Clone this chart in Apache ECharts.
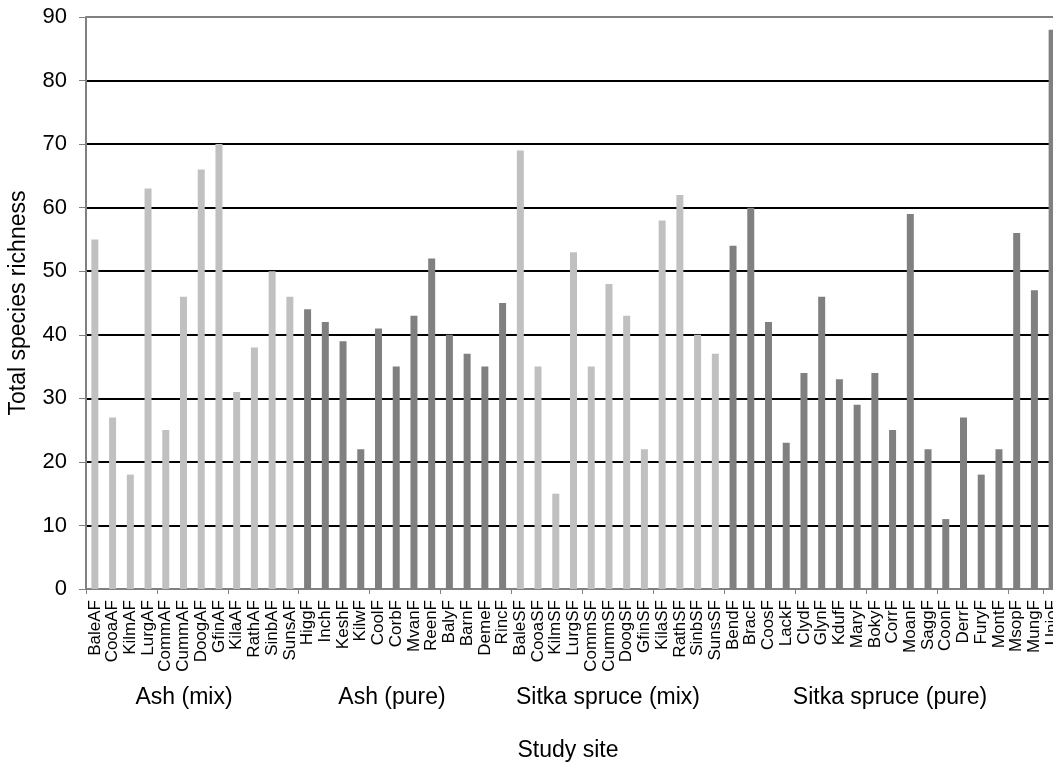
<!DOCTYPE html>
<html>
<head>
<meta charset="utf-8">
<script src="https://cdn.jsdelivr.net/npm/echarts@6/dist/echarts.min.js"></script>
<style>
html,body{margin:0;padding:0;background:#fff;}
#chart{width:1053px;height:764px;}
</style>
</head>
<body>
<div id="chart"></div>
<script>
const ashMixSites = ['BaleAF','CooaAF','KilmAF','LurgAF','CommAF','CummAF','DoogAF','GfinAF','KilaAF','RathAF','SinbAF','SunsAF'];
const ashMixValues = [55,27,18,63,25,46,66,70,31,38,50,46];
const ashPureSites = ['HiggF','InchF','KeshF','KilwF','CoolF','CorbF','MvanF','ReenF','BalyF','BarnF','DemeF','RincF'];
const ashPureValues = [44,42,39,22,41,35,43,52,40,37,35,45];
const sitkaMixSites = ['BaleSF','CooaSF','KilmSF','LurgSF','CommSF','CummSF','DoogSF','GfinSF','KilaSF','RathSF','SinbSF','SunsSF'];
const sitkaMixValues = [69,35,15,53,35,48,43,22,58,62,40,37];
const sitkaPureSites = ['BendF','BracF','CoosF','LackF','ClydF','GlynF','KdufF','MaryF','BokyF','CorrF','MoanF','SaggF','CoonF','DerrF','FuryF','MontF','MsopF','MungF','UnioF'];
const sitkaPureValues = [54,60,42,23,34,46,33,29,34,25,59,22,11,27,18,22,56,47,88];
const groupLabels = ['Ash (mix)','Ash (pure)','Sitka spruce (mix)','Sitka spruce (pure)'];
const yTicks = [0,10,20,30,40,50,60,70,80,90];

const LIGHT = '#c0c0c0', DARK = '#808080';
const groups = [
  {sites: ashMixSites, values: ashMixValues, color: LIGHT},
  {sites: ashPureSites, values: ashPureValues, color: DARK},
  {sites: sitkaMixSites, values: sitkaMixValues, color: LIGHT},
  {sites: sitkaPureSites, values: sitkaPureValues, color: DARK}
];
const categories = [];
const data = [];
groups.forEach(g => {
  g.sites.forEach((s, i) => {
    categories.push(s);
    data.push({value: g.values[i], itemStyle: {color: g.color}});
  });
});

const FONT = 'Liberation Sans, Arial, sans-serif';
const splitColors = yTicks.map((t, i) => (i === 0 || i === yTicks.length - 1) ? '#808080' : '#000');

const chart = echarts.init(document.getElementById('chart'), null, {renderer: 'canvas'});
const groupX = [184, 392, 608, 890];
chart.setOption({
  animation: false,
  backgroundColor: '#fff',
  grid: {left: 86, right: -8, top: 17, bottom: 175, containLabel: false, outerBoundsMode: 'none'},
  xAxis: {
    type: 'category',
    data: categories,
    boundaryGap: true,
    axisLine: {show: true, lineStyle: {color: '#808080', width: 2}},
    axisTick: {show: true, interval: 3, length: 5, lineStyle: {color: '#808080', width: 1}},
    axisLabel: {interval: 0, rotate: 90, margin: 11, color: '#000', fontSize: 17, fontFamily: FONT},
    splitLine: {show: false}
  },
  yAxis: {
    type: 'value',
    min: yTicks[0], max: yTicks[yTicks.length - 1], interval: 10,
    name: 'Total species richness',
    nameLocation: 'middle',
    nameGap: 56,
    nameRotate: 90,
    nameTextStyle: {color: '#000', fontSize: 23, fontFamily: FONT},
    axisLine: {show: true, lineStyle: {color: '#808080', width: 2}},
    axisTick: {show: true, length: 7, lineStyle: {color: '#808080', width: 1}},
    axisLabel: {margin: 19, color: '#000', fontSize: 22, fontFamily: FONT},
    splitLine: {show: true, lineStyle: {color: splitColors, width: 2}}
  },
  series: [{
    type: 'bar',
    data: data,
    barWidth: 7,
    itemStyle: {borderWidth: 0}
  }],
  graphic: groupLabels.map((t, i) => ({
    type: 'text', x: groupX[i], y: 698,
    style: {text: t, fill: '#000', fontSize: 23, fontFamily: FONT, textAlign: 'center', textVerticalAlign: 'middle'}
  })).concat([{
    type: 'text', x: 568, y: 751,
    style: {text: 'Study site', fill: '#000', fontSize: 23, fontFamily: FONT, textAlign: 'center', textVerticalAlign: 'middle'}
  }])
});
</script>
</body>
</html>
